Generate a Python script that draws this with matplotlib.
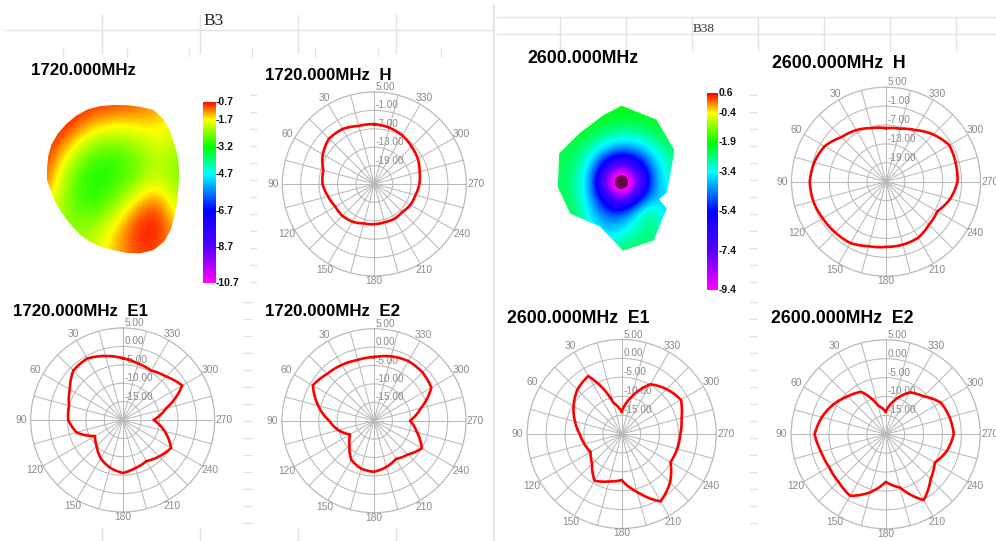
import numpy as np
import matplotlib
matplotlib.use("Agg")
import matplotlib.pyplot as plt
from matplotlib.colors import LinearSegmentedColormap
from matplotlib.patches import Polygon
from matplotlib.transforms import offset_copy

# ------------------------------------------------------------------ data
angles_deg = list(range(0, 360, 15))
angle_labels = [30, 60, 90, 120, 150, 180, 210, 240, 270, 300, 330]

rings_h = [-19, -13, -7, -1, 5]
rings_e = [-15, -10, -5, 0, 5]

h_1720 = [-5.5, -5.4, -4.3, -4.1, -5.6, -7.8, -8.1, -9.4, -10.3, -10.3, -10.8, -11.7,
          -11.9, -12.1, -11.9, -12.1, -11.4, -11.1, -10.3, -9.7, -8.6, -7.8, -6.7, -6.0]
e1_1720 = [-3.2, -2.0, -0.7, -1.0, -3.4, -4.9, -5.2, -7.0, -11.3, -10.0, -8.0, -6.6,
           -5.6, -6.5, -7.1, -6.0, -4.8, -8.2, -11.6, -7.8, -1.3, -3.3, -4.5, -4.1]
e2_1720 = [-2.7, -2.9, -2.5, -2.0, -0.8, -4.3, -7.8, -10.0, -12.5, -10.6, -7.7, -6.5,
           -6.1, -7.0, -8.0, -7.0, -5.0, -7.9, -10.2, -6.8, -2.0, -1.4, -1.3, -1.9]
h_2600 = [-8.0, -7.4, -6.1, -5.0, -2.5, -1.4, -0.8, -1.1, -1.8, -2.2, -2.5, -3.8,
          -4.3, -4.3, -4.5, -5.7, -6.2, -3.9, -2.3, -2.1, -1.8, -3.8, -6.1, -7.6]
e1_2600 = [-14.1, -11.4, -2.3, -3.4, -5.3, -7.2, -8.9, -9.8, -10.5, -8.9, -5.7, -7.0,
           -7.8, -4.1, 0.6, -1.9, -5.1, -4.8, -4.5, -3.6, -1.9, -3.2, -4.8, -9.8]
e2_2600 = [-14.0, -12.1, -7.0, -5.8, -4.1, -2.5, -1.2, -2.3, -2.7, -2.3, -1.2, -4.1,
           -7.4, -5.4, 0.1, -3.2, -5.0, -3.2, -2.0, -2.5, -3.2, -5.8, -7.2, -10.6]

cbar_1720_ticks = [-0.7, -1.7, -3.2, -4.7, -6.7, -8.7, -10.7]
cbar_2600_ticks = [0.6, -0.4, -1.9, -3.4, -5.4, -7.4, -9.4]

# 3D pattern projections (dB on a coarse grid, rows top -> bottom)
blob_1720_db = [
    [-0.7, -0.7, -0.8, -0.9, -1.0, -1.3, -1.8],
    [-0.7, -0.9, -1.6, -1.9, -1.8, -1.6, -2.0],
    [-0.8, -1.8, -2.8, -2.9, -2.6, -2.0, -2.4],
    [-1.0, -2.5, -3.2, -3.0, -2.6, -1.9, -2.6],
    [-1.5, -2.6, -3.0, -2.5, -1.4, -0.9, -2.3],
    [-2.0, -2.4, -2.3, -1.6, -0.8, -0.7, -1.6],
    [-2.2, -2.2, -2.0, -1.5, -1.0, -1.0, -1.6],
]
blob_1720_edge_deg = list(range(0, 360, 10))
blob_1720_edge_r = [66, 67, 69, 71, 75, 79, 81, 78, 76, 75, 75, 75, 74, 73, 72, 71, 69, 67,
                    66, 63, 62, 61, 61, 62, 64, 66, 68, 70, 74, 78, 81, 80, 76, 71, 68, 66]

blob_2600_db = [
    [-2.0, -2.0, -2.0, -2.0, -2.0, -2.0, -2.0, -2.0, -2.0],
    [-2.1, -2.1, -2.1, -2.2, -2.3, -2.3, -2.2, -2.1, -2.1],
    [-2.2, -2.2, -2.4, -2.9, -3.2, -3.1, -2.7, -2.3, -2.2],
    [-2.3, -2.5, -3.2, -4.2, -4.8, -4.5, -3.6, -2.8, -2.5],
    [-2.4, -2.7, -3.8, -6.6, -8.8, -6.8, -4.4, -3.1, -2.7],
    [-2.4, -2.8, -4.2, -8.8, -12.0, -8.8, -4.6, -3.3, -3.0],
    [-2.4, -2.7, -4.0, -6.2, -8.6, -6.0, -4.1, -3.6, -3.3],
    [-2.3, -2.6, -3.7, -4.8, -4.8, -3.6, -2.4, -4.0, -3.5],
    [-2.2, -2.5, -3.2, -4.0, -3.7, -3.0, -2.6, -3.3, -3.0],
    [-2.2, -2.3, -2.7, -3.2, -2.9, -2.6, -2.6, -2.7, -2.6],
    [-2.1, -2.1, -2.2, -2.4, -2.3, -2.3, -2.3, -2.3, -2.3],
]
blob_2600_edge_deg = [0, 24, 32, 61, 90, 105, 130, 155, 184, 211, 244, 271, 299, 330, 336, 347]
blob_2600_edge_r = [47, 56, 62, 72, 77, 70, 65, 69, 64, 60, 49, 68, 66, 52, 41, 46]

# ------------------------------------------------------------------ layout / style
W, H = 996, 541
fig = plt.figure(figsize=(W / 100, H / 100), dpi=100)
fig.patch.set_facecolor("white")
SANS = "Liberation Sans"
GRID = "#b9b9b9"
LABEL = "#8a8a8a"
SHEET = "#e2e2e2"


def rect(x0, y0, w, h):
    return [x0 / W, 1 - (y0 + h) / H, w / W, h / H]


# spreadsheet background
bg = fig.add_axes([0, 0, 1, 1], zorder=-10)
bg.set_xlim(0, W)
bg.set_ylim(H, 0)
bg.axis("off")
bg.plot([5, 493], [30, 30], color=SHEET, lw=1)
for x in [102, 200, 298, 396]:
    bg.plot([x, x], [15, 53], color=SHEET, lw=1)
for x in [63, 127, 189, 252, 315, 378, 441]:
    bg.plot([x, x], [49, 56], color=SHEET, lw=1)
bg.plot([494, 494], [5, H], color="#e6e6e6", lw=1.6)
bg.plot([497, W], [17, 17], color=SHEET, lw=1)
bg.plot([497, W], [34, 34], color=SHEET, lw=1)
for x in [560, 626, 692, 758, 824, 890, 956]:
    bg.plot([x, x], [17, 50], color=SHEET, lw=1)
for y in np.arange(95, 290, 17):
    bg.plot([250, 256], [y, y], color=SHEET, lw=1)
    bg.plot([750, 757], [y, y], color=SHEET, lw=1)
for y in np.arange(302, 540, 17):
    bg.plot([244, 251], [y, y], color=SHEET, lw=1)
    bg.plot([750, 757], [y, y], color=SHEET, lw=1)
for x in [102, 200, 298, 396]:
    bg.plot([x, x], [528, H], color=SHEET, lw=1)

fig.text(203 / W, 1 - 25 / H, "B3", family="Liberation Serif", fontsize=12.5, color="#222222")
fig.text(693 / W, 1 - 32 / H, "B38", family="Liberation Serif", fontsize=9.5, color="#333333")

# colour map of the pattern plots
cmap = LinearSegmentedColormap.from_list(
    "pattern",
    [(0.0, "#ff00ff"), (0.2, "#5500ff"), (0.4, "#0000ff"), (0.6, "#00ffff"),
     (0.75, "#00ff00"), (0.9, "#ffff00"), (1.0, "#ff0000")])
cmap = cmap.with_extremes(under="#6a0050")


def title(x, y, s, size):
    fig.text(x / W, 1 - y / H, s, family=SANS, fontweight="bold", fontsize=size,
             color="black", ha="left", va="baseline")


def polar_panel(cx, cy, R, rings, values):
    ax = fig.add_axes(rect(cx - R, cy - R, 2 * R, 2 * R), projection="polar")
    ax.set_theta_zero_location("N")
    ax.set_theta_direction(1)
    step = rings[1] - rings[0]
    rmin, rmax = rings[0] - step, rings[-1]
    ax.set_rlim(rmin, rmax)
    ax.set_xticks(np.deg2rad(np.arange(0, 360, 15)))
    ax.set_xticklabels([])
    ax.set_yticks(rings[:-1])
    ax.set_yticklabels([])
    ax.grid(True, color=GRID, lw=0.75)
    ax.spines["polar"].set_color(GRID)
    ax.spines["polar"].set_linewidth(0.9)
    ax.set_facecolor("white")
    span = rmax - rmin
    for a in angle_labels:
        t = np.deg2rad(a)
        off_px = 5 + 4.5 * abs(np.sin(t))
        ax.text(t, rmax + off_px / R * span, str(a), ha="center", va="center",
                fontsize=7.4, color=LABEL, family=SANS, clip_on=False)
    tr = offset_copy(ax.transData, fig=fig, x=1.5, y=0, units="dots")
    for rv in rings:
        ax.text(0, rv, f"{rv:.2f}", transform=tr, ha="left", va="bottom",
                fontsize=7.2, color=LABEL, family=SANS, clip_on=False)
    th = np.deg2rad(angles_deg + [360])
    line, = ax.plot(th, list(values) + [values[0]], color="#ff0000", lw=1.9, zorder=5,
                    solid_joinstyle="round")
    line.get_path()._interpolation_steps = 12
    return ax


def blob_panel(box, center, db, grid_half, edge_deg, edge_r, vmin, vmax):
    x0, y0, w, h = box
    cx, cy = center
    ax = fig.add_axes(rect(x0, y0, w, h))
    db = np.asarray(db, float)
    gx, gy = grid_half
    nr, nc = db.shape
    dx = 2 * gx / (nc - 1)
    dy = 2 * gy / (nr - 1)
    ext = (-gx - dx / 2, gx + dx / 2, -gy - dy / 2, gy + dy / 2)
    im = ax.imshow(db, extent=ext, origin="upper", cmap=cmap, vmin=vmin, vmax=vmax,
                   interpolation="bicubic", interpolation_stage="data", aspect="auto")
    a = np.deg2rad(edge_deg)
    r = np.asarray(edge_r, float)
    poly = Polygon(np.column_stack([r * np.cos(a), r * np.sin(a)]), closed=True,
                   facecolor="none", edgecolor="none", transform=ax.transData)
    ax.add_patch(poly)
    im.set_clip_path(poly)
    ax.set_xlim(x0 - cx, x0 + w - cx)
    ax.set_ylim(cy - (y0 + h), cy - y0)
    ax.axis("off")


def colorbar(box, ticks):
    ax = fig.add_axes(rect(*box))
    vmax, vmin = ticks[0], ticks[-1]
    ax.imshow(np.linspace(1, 0, 256)[:, None], cmap=cmap, vmin=0, vmax=1,
              aspect="auto", extent=(0, 1, vmin, vmax), origin="upper")
    ax.set_xlim(0, 1)
    ax.set_ylim(vmin, vmax)
    ax.axis("off")
    for t in ticks:
        ax.text(1.05, t, f"{t:.1f}", transform=ax.get_yaxis_transform(), ha="left",
                va="center", fontsize=7.5, fontweight="bold", family=SANS,
                color="#111111", clip_on=False)


# ---------------- left block: 1720 MHz
title(31, 75, "1720.000MHz", 12.2)
blob_panel((40, 100, 150, 160), (113, 180), blob_1720_db, (66.5, 74),
           blob_1720_edge_deg, blob_1720_edge_r, cbar_1720_ticks[-1], cbar_1720_ticks[0])
colorbar((203, 102, 12, 181), cbar_1720_ticks)

title(265, 80, "1720.000MHz  H", 12.2)
polar_panel(374.3, 184, 92, rings_h, h_1720)

title(13, 316, "1720.000MHz  E1", 12.2)
polar_panel(122.7, 420, 92, rings_e, e1_1720)

title(265, 316, "1720.000MHz  E2", 12.2)
polar_panel(374, 420.7, 92, rings_e, e2_1720)

# ---------------- right block: 2600 MHz
title(527, 63, "2600.000MHz", 12.8)
blob_panel((545, 95, 145, 170), (621.7, 182.7), blob_2600_db, (60, 75),
           blob_2600_edge_deg, blob_2600_edge_r, cbar_2600_ticks[-1], cbar_2600_ticks[0])
colorbar((707, 93, 11, 197), cbar_2600_ticks)

title(772, 68, "2600.000MHz  H", 12.8)
polar_panel(886, 181.7, 94.5, rings_h, h_2600)

title(507, 323, "2600.000MHz  E1", 12.8)
polar_panel(621.7, 434, 94.5, rings_e, e1_2600)

title(771, 323, "2600.000MHz  E2", 12.8)
polar_panel(885.7, 434.3, 94.5, rings_e, e2_2600)

fig.savefig("out.png", dpi=100, facecolor="white")
